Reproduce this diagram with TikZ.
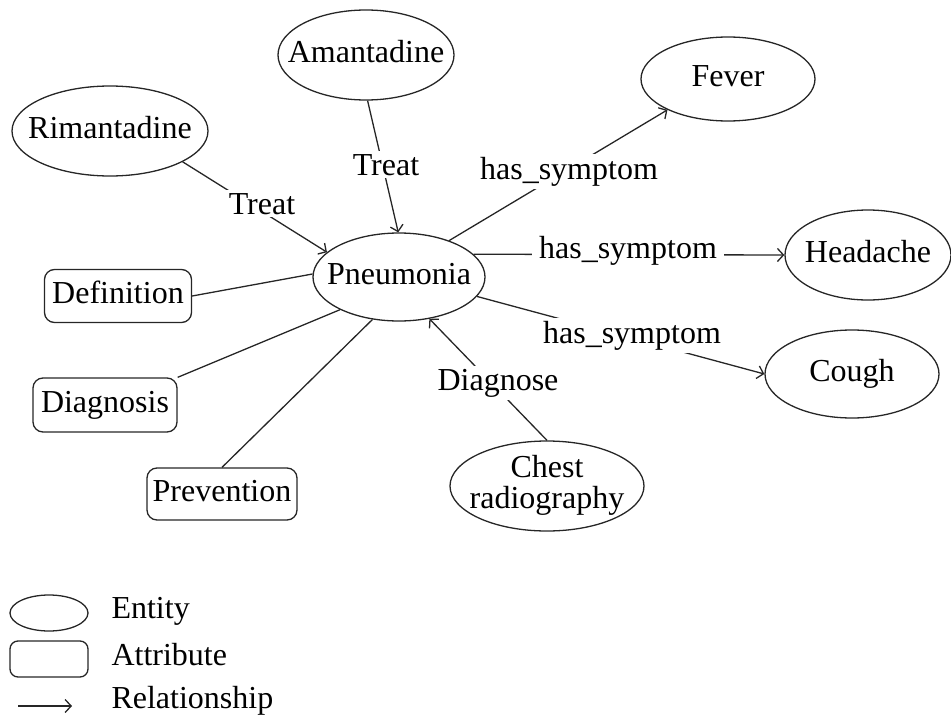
\documentclass[tikz,border=0pt]{standalone}
\usepackage{fontspec}
\setmainfont{Liberation Serif}
\usetikzlibrary{shapes.geometric,arrows.meta}
\newcommand\zw[1]{\makebox[0pt]{#1}}
\begin{document}
\begin{tikzpicture}[x=1pt,y=-1pt,
  every node/.style={font=\fontsize{32}{30}\selectfont, text=black},
  ent/.style={draw=black!85, ellipse, inner sep=0pt, line width=1.3pt, text height=22pt, text depth=7pt},
  attr/.style={draw=black!85, rectangle, rounded corners=10pt, inner sep=0pt, line width=1.3pt, text height=22pt, text depth=7pt},
  lbl/.style={fill=white, inner xsep=7pt, inner ysep=3pt, anchor=base},
  conn/.style={line width=1.3pt, draw=black!85},
  rel/.style={conn, -{Straight Barb[length=6pt,width=13pt]}},
  lgd/.style={anchor=base west}
]
\useasboundingbox (0,0) rectangle (951,720);

% entities
\node[ent, minimum width=176pt, minimum height=90pt] (am) at (366,55) {\zw{Amantadine}};
\node[ent, minimum width=196pt, minimum height=90pt] (rim) at (110,131) {\zw{Rimantadine}};
\node[ent, minimum width=172pt, minimum height=88pt] (pn) at (399,277) {\zw{Pneumonia}};
\node[ent, minimum width=174pt, minimum height=84pt] (fev) at (728,79) {\zw{Fever}};
\node[ent, minimum width=166pt, minimum height=90pt] (hd) at (868,255) {\zw{Headache}};
\node[ent, minimum width=174pt, minimum height=88pt] (co) at (852,374) {\zw{Cough}};
\node[draw=black!85, ellipse, inner sep=0pt, line width=1.3pt, minimum width=194pt, minimum height=90pt] (ch) at (547,486)
  {\zw{\begin{tabular}{@{}c@{}}Chest\\radiography\end{tabular}}};

% attributes
\node[attr, minimum width=147pt, minimum height=53pt] (def) at (118,296) {Definition};
\node[attr, minimum width=144pt, minimum height=54pt] (diag) at (105,405) {Diagnosis};
\node[attr, minimum width=150pt, minimum height=52pt] (prev) at (222,494) {Prevention};

% connectors
\draw[rel] (rim.-23) -- (pn.161);
\draw[rel] (am.-88) -- (pn.91);
\draw[rel] (pn.36) -- (fev.207);
\draw[rel] (pn.17) -- (hd.180);
\draw[rel] (pn.-14) -- (co.180);
\draw[rel] (ch.90) -- (pn.-54);
\draw[conn] (def.east) -- (pn.178);
\draw[conn] (diag.north east) -- (pn.209);
\draw[conn] (prev.north) -- (pn.238);

% labels
\node[lbl] (t1) at (262,214) {Treat};
\node[lbl] (t2) at (386,175) {Treat};
\node[lbl] (s1) at (569,179) {has\_symptom};
\node[lbl] (s2) at (628,258) {has\_symptom};
\node[lbl, inner xsep=3pt] (s3) at (632,343) {has\_symptom};
\node[lbl] (dg) at (498,390) {Diagnose};

% legend
\node[draw=black!85, ellipse, line width=1.3pt, minimum width=78pt, minimum height=36pt, inner sep=0pt] (le) at (49,613) {};
\node[draw=black!85, rectangle, rounded corners=8pt, line width=1.3pt, minimum width=78pt, minimum height=36pt, inner sep=0pt] (la) at (49,659) {};
\coordinate (r1) at (18,706);
\coordinate (r2) at (72,706);
\draw[rel] (r1) -- (r2);
\node[lgd] (lt1) at (108,618) {Entity};
\node[lgd] (lt2) at (108,665) {Attribute};
\node[lgd] (lt3) at (108,708) {Relationship};
\end{tikzpicture}
\end{document}
